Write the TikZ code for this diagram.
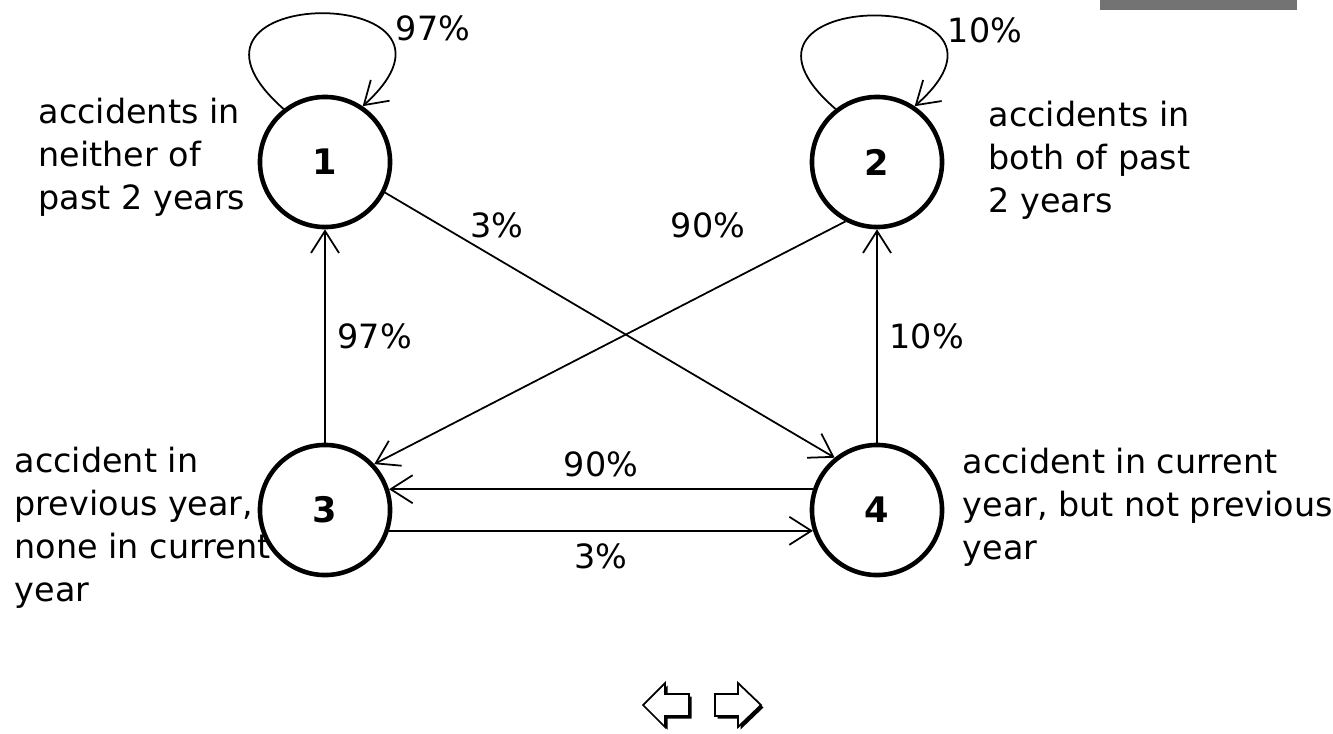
\documentclass[tikz,border=0pt]{standalone}
\usepackage{fontspec}
\setmainfont{DejaVu Sans}
\usetikzlibrary{arrows.meta}
\tikzset{
  state/.style={circle, draw, line width=1.3pt, minimum size=1.3cm, inner sep=0pt, font=\bfseries},
  trans/.style={->, line width=0.5pt},
  note/.style={align=left, anchor=west, inner sep=0pt},
  navarrow/.style={fill=white, draw, line width=0.5pt}
}
\begin{document}
\begin{tikzpicture}[x=0.01cm, y=-0.01cm, >={Straight Barb[length=2.2mm,width=2.8mm]},
    font=\fontsize{9.5}{12.2}\selectfont]
    \useasboundingbox (0,0) rectangle (1333,733);

    % bar in the corner
    \fill[black!55] (1100,0) rectangle (1297,10);

    % states
    \node[state] (n1) at (325,162) {1};
    \node[state] (n2) at (877,162) {2};
    \node[state] (n3) at (325,510) {3};
    \node[state] (n4) at (877,510) {4};

    % descriptions
    \node[note] (d1) at (38,157) {accidents in\\neither of\\past 2 years};
    \node[note] (d2) at (988,160) {accidents in\\both of past\\2 years};
    \node[note] (d3) at (14,528) {accident in\\previous year,\\none in current\\year};
    \node[note] (d4) at (962,507) {accident in current\\year, but not previous\\year};

    % self loops
    \draw[trans] (n1.128) .. controls (140,-18) and (500,-18) .. (n1.56);
    \node (l11) at (433,28) {97\%};
    \draw[trans] (n2.128) .. controls (692,-15) and (1052,-15) .. (n2.56);
    \node (l22) at (985,30) {10\%};

    % transitions
    \draw[trans] (n3.north) -- (n1.south) node[midway, right] {97\%};
    \draw[trans] (n4.north) -- (n2.south) node[midway, right] {10\%};
    \draw[trans] (n1.-27) -- (n4.129);
    \node (l14) at (497,225) {3\%};
    \draw[trans] (n2.242) -- (n3.43);
    \node (l23) at (708,225) {90\%};
    \draw[trans] (n4.162) -- (n3.18) node[midway, above] {90\%};
    \draw[trans] (n3.-18) -- (n4.198) node[midway, below] {3\%};

    % navigation arrows
    \begin{scope}[shift={(2.5,2.5)}]
        \fill (643,705) -- (665,683) -- (665,694) -- (689,694) -- (689,716) -- (665,716) -- (665,727) -- cycle;
        \fill (761,705) -- (738,683) -- (738,694) -- (715,694) -- (715,716) -- (738,716) -- (738,727) -- cycle;
    \end{scope}
    \draw[navarrow] (643,705) -- (665,683) -- (665,694) -- (689,694) -- (689,716) -- (665,716) -- (665,727) -- cycle;
    \draw[navarrow] (761,705) -- (738,683) -- (738,694) -- (715,694) -- (715,716) -- (738,716) -- (738,727) -- cycle;
\end{tikzpicture}
\end{document}
